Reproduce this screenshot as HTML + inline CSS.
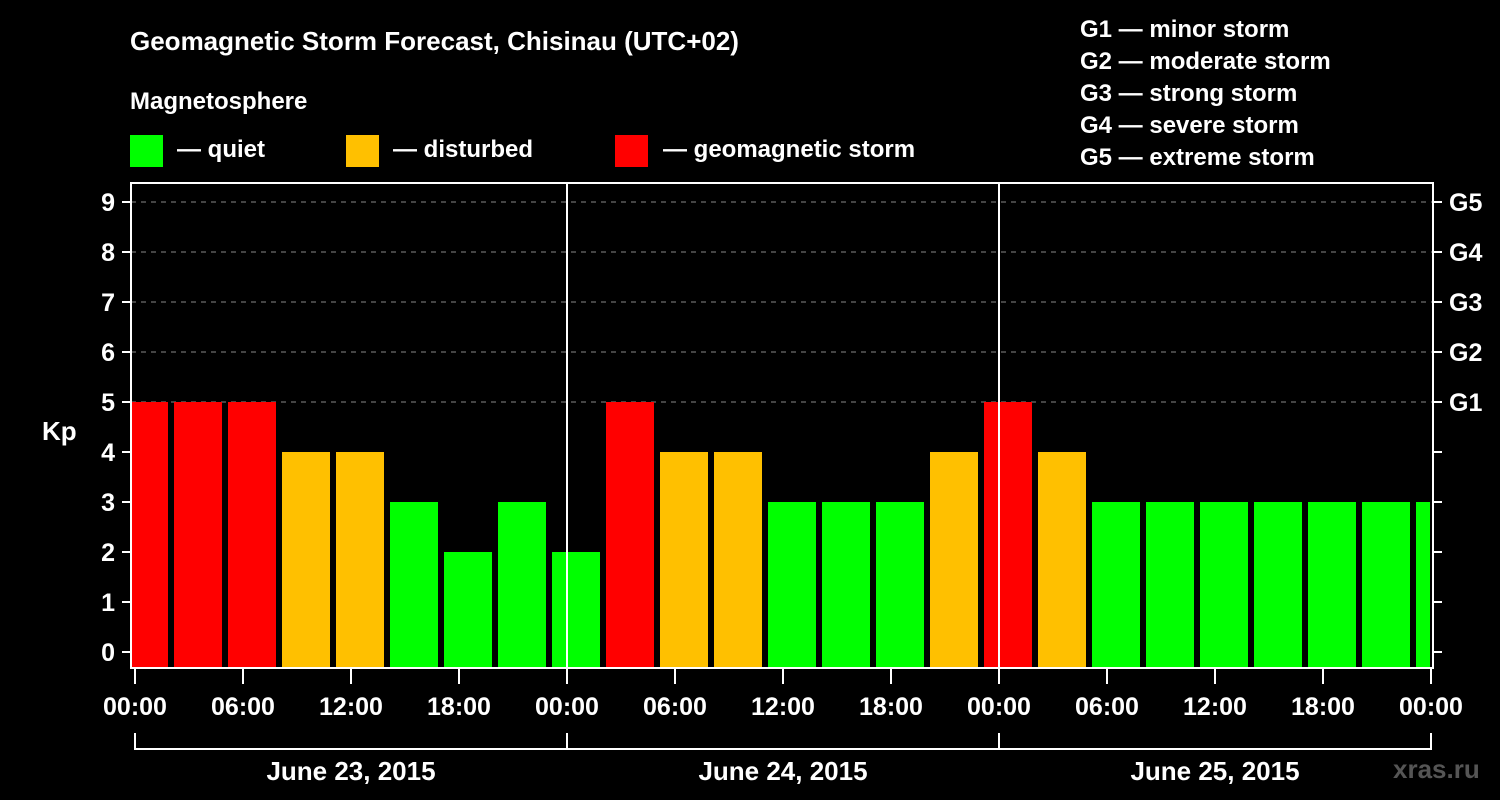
<!DOCTYPE html>
<html><head><meta charset="utf-8"><style>
html,body{margin:0;padding:0;background:#000;}
svg{display:block;font-family:"Liberation Sans",Arial,sans-serif;font-weight:bold;}
</style></head><body>
<svg id="chart" width="1500" height="800" xmlns="http://www.w3.org/2000/svg">
<rect width="1500" height="800" fill="#000"/>
<text x="130" y="50" fill="#fff" font-size="26">Geomagnetic Storm Forecast, Chisinau (UTC+02)</text>
<text x="130" y="109" fill="#fff" font-size="24">Magnetosphere</text>
<g><rect x="130" y="135" width="33" height="32" fill="#00ff00"/><text x="177" y="157" fill="#fff" font-size="24">— quiet</text></g>
<g><rect x="346" y="135" width="33" height="32" fill="#ffc000"/><text x="393" y="157" fill="#fff" font-size="24">— disturbed</text></g>
<g><rect x="615" y="135" width="33" height="32" fill="#ff0000"/><text x="663" y="157" fill="#fff" font-size="24">— geomagnetic storm</text></g>
<g fill="#fff" font-size="24">
<text x="1080" y="37">G1 — minor storm</text>
<text x="1080" y="69">G2 — moderate storm</text>
<text x="1080" y="101">G3 — strong storm</text>
<text x="1080" y="133">G4 — severe storm</text>
<text x="1080" y="165">G5 — extreme storm</text>
</g>
<text x="42" y="440" fill="#fff" font-size="26">Kp</text>
<text x="1393" y="778" fill="#555" font-size="26">xras.ru</text>
<defs><clipPath id="pc"><rect x="131" y="183" width="1299" height="485"/></clipPath></defs>
<g id="grid"></g>
<g id="bars" clip-path="url(#pc)"></g>
<g id="axes"></g>
</svg>
<script>
const kpValues=[5,5,5,4,4,3,2,3,2,5,4,4,3,3,3,4,5,4,3,3,3,3,3,3,3];
const yTicks=[0,1,2,3,4,5,6,7,8,9];
const gLabels=["G1","G2","G3","G4","G5"];
const xTickLabels=["00:00","06:00","12:00","18:00","00:00","06:00","12:00","18:00","00:00","06:00","12:00","18:00","00:00"];
const dayLabels=["June 23, 2015","June 24, 2015","June 25, 2015"];
const NS="http://www.w3.org/2000/svg";
const x0=135,pxPerHour=18,y0=652,pxPerKp=50;
const xs=h=>x0+h*pxPerHour;
const ys=v=>y0-v*pxPerKp;
function mk(tag,attrs,parent,text){const e=document.createElementNS(NS,tag);for(const k in attrs)e.setAttribute(k,attrs[k]);if(text!=null)e.textContent=text;parent.appendChild(e);return e;}
const grid=document.getElementById('grid'),bars=document.getElementById('bars'),axes=document.getElementById('axes');
for(let v=5;v<=9;v++){const l=mk('line',{x1:131,x2:1433,y1:ys(v),y2:ys(v),stroke:'#888','stroke-width':1,'stroke-dasharray':'5,5'},grid);

}
kpValues.forEach((v,i)=>{const col=v>=5?'#ff0000':(v>=4?'#ffc000':'#00ff00');
const bx=xs(3*i-1)+3;
const r=mk('rect',{x:bx,y:ys(v),width:48,height:ys(0)-ys(v)+16,fill:col},bars);

});
// frame
const fr=mk('rect',{x:131,y:183,width:1302,height:485,fill:'none',stroke:'#fff','stroke-width':2},axes);


[24,48].forEach(h=>{const l=mk('line',{x1:xs(h),x2:xs(h),y1:183,y2:668,stroke:'#fff','stroke-width':2},axes);

});
yTicks.forEach(v=>{mk('line',{x1:122,x2:131,y1:ys(v),y2:ys(v),stroke:'#fff','stroke-width':2},axes);
mk('line',{x1:1433,x2:1442,y1:ys(v),y2:ys(v),stroke:'#fff','stroke-width':2},axes);
const t=mk('text',{x:115,y:ys(v)+9,fill:'#fff','font-size':25,'text-anchor':'end'},axes,String(v));

});
gLabels.forEach((g,i)=>{const t=mk('text',{x:1449,y:ys(5+i)+9,fill:'#fff','font-size':25},axes,g);

});
xTickLabels.forEach((s,i)=>{const x=xs(6*i);
mk('line',{x1:x,x2:x,y1:668,y2:684,stroke:'#fff','stroke-width':2},axes);
const t=mk('text',{x:x,y:715,fill:'#fff','font-size':25,'text-anchor':'middle'},axes,s);

});
mk('line',{x1:xs(0),x2:xs(72),y1:749,y2:749,stroke:'#fff','stroke-width':2},axes);
[0,24,48,72].forEach(h=>mk('line',{x1:xs(h),x2:xs(h),y1:733,y2:750,stroke:'#fff','stroke-width':2},axes));
dayLabels.forEach((d,i)=>{const t=mk('text',{x:xs(24*i+12),y:780,fill:'#fff','font-size':26,'text-anchor':'middle'},axes,d);

});
</script>
</body></html>
